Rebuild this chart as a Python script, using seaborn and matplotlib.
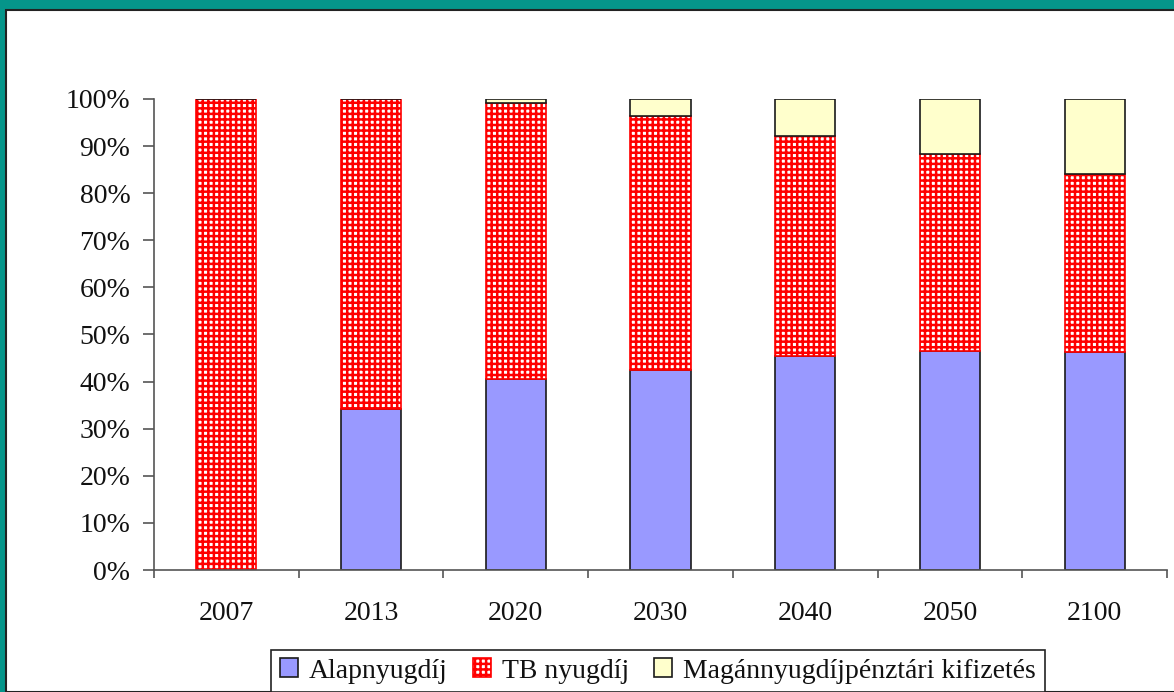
import matplotlib
matplotlib.use("Agg")
import matplotlib.pyplot as plt
from matplotlib.patches import Rectangle
from matplotlib.ticker import FixedLocator, PercentFormatter
import seaborn as sns
import numpy as np

years = ["2007", "2013", "2020", "2030", "2040", "2050", "2100"]
alap = [0.0, 34.1, 40.5, 42.5, 45.4, 46.6, 46.3]
tb = [100.0, 65.9, 58.6, 53.9, 46.8, 41.8, 37.8]
magan = [0.0, 0.0, 0.9, 3.6, 7.8, 11.6, 15.9]
labels = ["Alapnyugdíj", "TB nyugdíj", "Magánnyugdíjpénztári kifizetés"]

sns.set_theme(style="white")
plt.rcParams["font.family"] = ["Liberation Serif", "DejaVu Serif"]
plt.rcParams["hatch.linewidth"] = 1.8
plt.rcParams["hatch.color"] = "#ff0000"

fig = plt.figure(figsize=(11.74, 6.92), dpi=100)
fig.patch.set_facecolor("#05958a")
fig.add_artist(Rectangle((6 / 1174, 0), 1.0, 1 - 10 / 692, transform=fig.transFigure,
                         facecolor="white", edgecolor="#222222", lw=1.5, zorder=0))

ax = fig.add_axes([154 / 1174, 1 - 570 / 692, (1167 - 154) / 1174, 471 / 692])
ax.set_facecolor("none")

w = 0.415
bottom_tb = np.array(alap)
bottom_m = np.array(alap) + np.array(tb)

sns.barplot(x=years, y=alap, ax=ax, color="#9999ff", edgecolor="#1a1a1a",
            linewidth=1.2, width=w, saturation=1, label=labels[0])
sns.barplot(x=years, y=tb, ax=ax, bottom=bottom_tb, color="white",
            edgecolor="#ff0000", hatch="+++", linewidth=1.2, width=w,
            saturation=1, label=labels[1])
sns.barplot(x=years, y=magan, ax=ax, bottom=bottom_m, color="#ffffcc",
            edgecolor="#1a1a1a", linewidth=1.2, width=w, saturation=1,
            label=labels[2])

ax.set_xlim(-0.5, 6.5)
ax.set_ylim(0, 100)
ax.yaxis.set_major_locator(FixedLocator(np.arange(0, 101, 10)))
ax.yaxis.set_major_formatter(PercentFormatter(decimals=0))
ax.xaxis.set_minor_locator(FixedLocator(np.arange(-0.5, 7, 1.0)))

for s in ["top", "right"]:
    ax.spines[s].set_visible(False)
for s in ["left", "bottom"]:
    ax.spines[s].set_color("#555555")
    ax.spines[s].set_linewidth(1.2)

ax.tick_params(axis="y", which="major", direction="out", length=8, width=1.2,
               color="#555555", left=True, labelsize=20, pad=9, labelcolor="#111111")
ax.tick_params(axis="x", which="major", length=0, labelsize=20, pad=22, labelcolor="#111111")
ax.tick_params(axis="x", which="minor", direction="out", length=6, width=1.2,
               color="#555555", bottom=True)
ax.set_xlabel("")
ax.set_ylabel("")

leg = ax.legend(loc="center", bbox_to_anchor=(658 / 1174, 1 - 671 / 692),
                bbox_transform=fig.transFigure, ncol=3, frameon=True,
                fancybox=False, framealpha=1, edgecolor="#222222",
                fontsize=20, handlelength=0.65, handleheight=0.65,
                handletextpad=0.4, columnspacing=0.9, borderpad=0.3,
                borderaxespad=0)
leg.get_frame().set_linewidth(1.2)
for t in leg.get_texts():
    t.set_color("#111111")

fig.savefig("out.png", dpi=100, facecolor=fig.get_facecolor())
